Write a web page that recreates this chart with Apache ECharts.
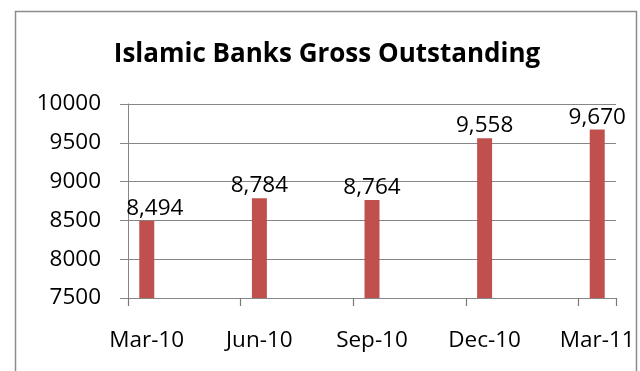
<!DOCTYPE html>
<html>
<head>
<meta charset="utf-8">
<script src="https://cdn.jsdelivr.net/npm/echarts@6/dist/echarts.min.js"></script>
<style>
  html, body { margin: 0; padding: 0; background: #fff; }
  #chart { width: 640px; height: 371px; }
</style>
</head>
<body>
<div id="chart"></div>
<script>
// Monthly date axis: the quarterly values sit in their month slot
const months = ['Mar-10', 'Apr-10', 'May-10', 'Jun-10', 'Jul-10', 'Aug-10', 'Sep-10',
                'Oct-10', 'Nov-10', 'Dec-10', 'Jan-11', 'Feb-11', 'Mar-11'];
const quarters = ['Mar-10', 'Jun-10', 'Sep-10', 'Dec-10', 'Mar-11'];
const outstanding = [8494, 8784, 8764, 9558, 9670];
const yTicks = [7500, 8000, 8500, 9000, 9500, 10000];

const FONT = '"Open Sans", sans-serif';

const seriesData = months.map(function (m) {
  const q = quarters.indexOf(m);
  if (q < 0) return '-';
  const item = { value: outstanding[q] };
  // keep the first label clear of the value axis
  if (q === 0) item.label = { offset: [8, 0] };
  return item;
});

const chart = echarts.init(document.getElementById('chart'), null, { renderer: 'canvas' });
chart.setOption({
  animation: false,
  backgroundColor: '#ffffff',
  title: {
    text: 'Islamic Banks Gross Outstanding',
    left: 322,
    textAlign: 'center',
    top: 37,
    textStyle: { fontFamily: FONT, fontWeight: 'bold', fontSize: 26, color: '#000' }
  },
  graphic: [{
    type: 'rect',
    shape: { x: 15.5, y: 11.5, width: 621, height: 400 },
    style: { fill: 'none', stroke: '#8c8c8c', lineWidth: 1.5 },
    silent: true
  }],
  grid: { left: 128, right: 24, top: 104, bottom: 73, containLabel: false },
  xAxis: {
    type: 'category',
    data: months,
    boundaryGap: true,
    axisLine: { lineStyle: { color: '#868686', width: 1 } },
    axisTick: {
      show: true,
      length: 8,
      interval: 2,
      lineStyle: { color: '#7a7a7a', width: 1.2 }
    },
    axisLabel: {
      interval: 2,
      margin: 31,
      fontFamily: FONT,
      fontSize: 22.5,
      color: '#000'
    },
    splitLine: { show: false }
  },
  yAxis: {
    type: 'value',
    min: yTicks[0],
    max: yTicks[yTicks.length - 1],
    interval: 500,
    axisLine: { show: true, lineStyle: { color: '#868686', width: 1 } },
    axisTick: { show: true, length: 8, lineStyle: { color: '#868686' } },
    axisLabel: {
      margin: 27,
      fontFamily: FONT,
      fontSize: 22.5,
      color: '#000',
      formatter: function (v) { return String(v); }
    },
    splitLine: { show: true, lineStyle: { color: '#868686', width: 1 } }
  },
  series: [{
    type: 'bar',
    data: seriesData,
    barWidth: 15,
    itemStyle: { color: '#C0504D' },
    label: {
      show: true,
      position: 'top',
      distance: 1,
      fontFamily: FONT,
      fontSize: 22.5,
      color: '#000',
      formatter: function (p) { return p.value.toLocaleString('en-US'); }
    }
  }]
});
</script>
</body>
</html>
